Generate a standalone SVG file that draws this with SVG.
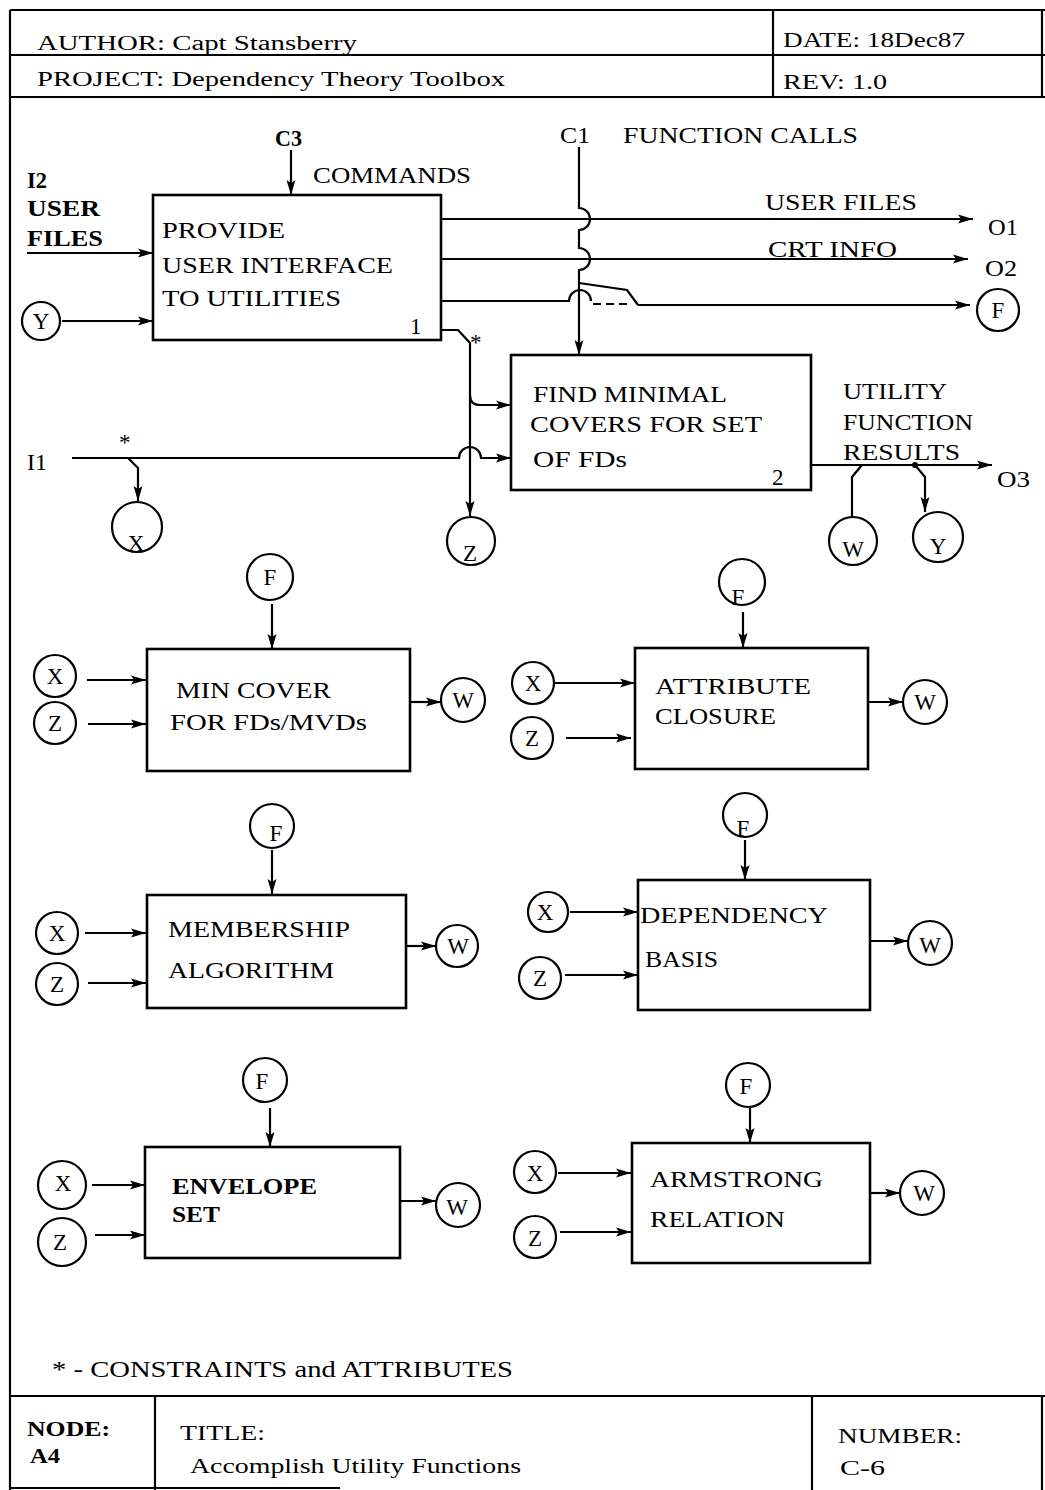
<svg xmlns="http://www.w3.org/2000/svg" width="1045" height="1490" viewBox="0 0 1045 1490">
<defs>
<marker id="arr" markerUnits="userSpaceOnUse" markerWidth="16" markerHeight="10" refX="15" refY="5" orient="auto">
<path d="M0,0.5 L15,5 L0,9.5 L3,5 z" fill="#000"/>
</marker>
<style>
.t{font-family:"Liberation Serif","DejaVu Serif",serif;font-size:23px;fill:#000}
.h{font-size:20px}
.b{font-weight:bold}
.l{fill:none;stroke:#000;stroke-width:2.2}
.a{marker-end:url(#arr)}
.bx{fill:#fff;stroke:#000;stroke-width:2.6}
.c{fill:#fff;stroke:#000;stroke-width:2.2}
.cl{font-family:"Liberation Serif","DejaVu Serif",serif;font-size:23px;text-anchor:middle;fill:#000}
</style>
</defs>
<rect width="1045" height="1490" fill="#fff"/>
<g id="frame" class="l">
<path d="M10,10 H1045 M10,10 V1490 M10,55 H1045 M10,97 H1045 M773,10 V97 M1042,10 V97 M10,1396 H1045 M155,1396 V1490 M812,1396 V1490 M1042,1396 V1490 M10,1488 H340"/>
</g>
<g id="header">
<text class="t h" x="37" y="50" textLength="320" lengthAdjust="spacingAndGlyphs">AUTHOR: Capt Stansberry</text>
<text class="t h" x="783" y="47" textLength="182" lengthAdjust="spacingAndGlyphs">DATE: 18Dec87</text>
<text class="t h" x="37" y="86" textLength="468" lengthAdjust="spacingAndGlyphs">PROJECT: Dependency Theory Toolbox</text>
<text class="t h" x="783" y="89" textLength="104" lengthAdjust="spacingAndGlyphs">REV: 1.0</text>
</g>
<g id="labels">
<text class="t b" x="275" y="146" textLength="27" lengthAdjust="spacingAndGlyphs">C3</text>
<text class="t" x="313" y="183" textLength="158" lengthAdjust="spacingAndGlyphs">COMMANDS</text>
<text class="t" x="560" y="143" textLength="30" lengthAdjust="spacingAndGlyphs">C1</text>
<text class="t" x="623" y="143" textLength="235" lengthAdjust="spacingAndGlyphs">FUNCTION CALLS</text>
<text class="t b" x="27" y="188" textLength="20" lengthAdjust="spacingAndGlyphs">I2</text>
<text class="t b" x="27" y="216" textLength="73" lengthAdjust="spacingAndGlyphs">USER</text>
<text class="t b" x="27" y="246" textLength="76" lengthAdjust="spacingAndGlyphs">FILES</text>
<text class="t" x="765" y="210" textLength="152" lengthAdjust="spacingAndGlyphs">USER FILES</text>
<text class="t" x="768" y="257" textLength="129" lengthAdjust="spacingAndGlyphs">CRT INFO</text>
<text class="t" x="988" y="235" textLength="30" lengthAdjust="spacingAndGlyphs">O1</text>
<text class="t" x="985" y="276" textLength="32" lengthAdjust="spacingAndGlyphs">O2</text>
<text class="t" x="27" y="470" textLength="20" lengthAdjust="spacingAndGlyphs">I1</text>
<text class="t" x="997" y="487" textLength="33" lengthAdjust="spacingAndGlyphs">O3</text>
<text class="t" x="843" y="399" textLength="104" lengthAdjust="spacingAndGlyphs">UTILITY</text>
<text class="t" x="843" y="430" textLength="130" lengthAdjust="spacingAndGlyphs">FUNCTION</text>
<text class="t" x="843" y="460" textLength="117" lengthAdjust="spacingAndGlyphs">RESULTS</text>
<text class="t" x="470" y="350" font-size="18">*</text>
<text class="t" x="119" y="450" font-size="18">*</text>
<text class="t" x="52" y="1377" textLength="461" lengthAdjust="spacingAndGlyphs">* - CONSTRAINTS and ATTRIBUTES</text>
</g>
<g id="footer">
<text class="t h b" x="27" y="1436" textLength="83" lengthAdjust="spacingAndGlyphs">NODE:</text>
<text class="t h b" x="30" y="1463" textLength="30" lengthAdjust="spacingAndGlyphs">A4</text>
<text class="t h" x="180" y="1440" textLength="85" lengthAdjust="spacingAndGlyphs">TITLE:</text>
<text class="t h" x="190" y="1473" textLength="331" lengthAdjust="spacingAndGlyphs">Accomplish Utility Functions</text>
<text class="t h" x="838" y="1443" textLength="124" lengthAdjust="spacingAndGlyphs">NUMBER:</text>
<text class="t h" x="840" y="1475" textLength="45" lengthAdjust="spacingAndGlyphs">C-6</text>
</g>
<g id="connectors" class="l">
<path class="a" d="M291,150 V195"/>
<path class="a" d="M27,253 H153"/>
<path class="a" d="M62,321 H153"/>
<path class="a" d="M441,219 H973"/>
<path class="a" d="M441,259 H968"/>
<path d="M441,301 H569 A11,11 0 0 1 591,301"/>
<path d="M593,304 H632" stroke-dasharray="8,5"/>
<path class="a" d="M638,305 H970"/>
<path d="M579,283 L627,290 L638,305"/>
<path class="a" d="M579,147 V208 A11,11 0 0 1 579,230 V248 A11,11 0 0 1 579,270 V355"/>
<path class="a" d="M441,330 H458 L470,343 V516"/>
<path class="a" d="M470,395 Q470,405 480,405 H511"/>
<path class="a" d="M72,458 H459 A11,11 0 0 1 481,458 H511"/>
<path class="a" d="M128,458 L138,468 V501"/>
<path class="a" d="M811,465 H992"/>
<path d="M862,465 L852,477 V517"/>
<path class="a" d="M915,465 L925,477 V512"/>
<path class="a" d="M272,604 V649"/>
<path class="a" d="M87,680 H146"/>
<path class="a" d="M88,724 H146"/>
<path class="a" d="M410,702 H441"/>
<path class="a" d="M743,612 V648"/>
<path class="a" d="M555,683 H635"/>
<path class="a" d="M566,738 H631"/>
<path class="a" d="M868,702 H903"/>
<path class="a" d="M272,850 V894"/>
<path class="a" d="M85,933 H146"/>
<path class="a" d="M88,983 H146"/>
<path class="a" d="M406,946 H436"/>
<path class="a" d="M745,840 V880"/>
<path class="a" d="M570,912 H638"/>
<path class="a" d="M565,975 H638"/>
<path class="a" d="M870,941 H908"/>
<path class="a" d="M270,1108 V1147"/>
<path class="a" d="M92,1185 H145"/>
<path class="a" d="M95,1235 H145"/>
<path class="a" d="M400,1201 H436"/>
<path class="a" d="M750,1108 V1143"/>
<path class="a" d="M558,1173 H631"/>
<path class="a" d="M560,1232 H631"/>
<path class="a" d="M870,1193 H900"/>
</g>
<circle cx="915" cy="465" r="3" fill="#000"/>
<g id="box1">
<rect class="bx" x="153" y="195" width="288" height="145"/>
<text class="t" x="162" y="238" textLength="123" lengthAdjust="spacingAndGlyphs">PROVIDE</text>
<text class="t" x="162" y="273" textLength="231" lengthAdjust="spacingAndGlyphs">USER INTERFACE</text>
<text class="t" x="162" y="306" textLength="179" lengthAdjust="spacingAndGlyphs">TO UTILITIES</text>
<text class="t" x="410" y="334" font-size="20">1</text>
</g>
<g id="box2">
<rect class="bx" x="511" y="355" width="300" height="135"/>
<text class="t" x="533" y="402" textLength="194" lengthAdjust="spacingAndGlyphs">FIND MINIMAL</text>
<text class="t" x="530" y="432" textLength="232" lengthAdjust="spacingAndGlyphs">COVERS FOR SET</text>
<text class="t" x="533" y="467" textLength="94" lengthAdjust="spacingAndGlyphs">OF FDs</text>
<text class="t" x="772" y="485" font-size="20">2</text>
</g>
<g id="top-circles">
<g id="c-Y1"><circle class="c" cx="41" cy="321" r="19"/><text class="cl" x="41" y="329">Y</text></g>
<g id="c-F0"><circle class="c" cx="998" cy="310" r="21"/><text class="cl" x="998" y="318">F</text></g>
<g id="c-X0"><circle class="c" cx="137" cy="527" r="25"/><text class="cl" x="136" y="551">X</text></g>
<g id="c-Z0"><circle class="c" cx="471" cy="541" r="24"/><text class="cl" x="470" y="561">Z</text></g>
<g id="c-W0"><circle class="c" cx="853" cy="541" r="24"/><text class="cl" x="853" y="557">W</text></g>
<g id="c-Y0"><circle class="c" cx="938" cy="537" r="25"/><text class="cl" x="938" y="554">Y</text></g>
</g>
<g id="mincover">
<rect class="bx" x="147" y="649" width="263" height="122"/>
<text class="t" x="176" y="698" textLength="155" lengthAdjust="spacingAndGlyphs">MIN COVER</text>
<text class="t" x="170" y="730" textLength="197" lengthAdjust="spacingAndGlyphs">FOR FDs/MVDs</text>
<circle class="c" cx="270" cy="577" r="23"/><text class="cl" x="270" y="585">F</text>
<circle class="c" cx="55" cy="676" r="21"/><text class="cl" x="55" y="684">X</text>
<circle class="c" cx="55" cy="723" r="21"/><text class="cl" x="55" y="731">Z</text>
<circle class="c" cx="463" cy="700" r="22"/><text class="cl" x="463" y="708">W</text>
</g>
<g id="attrclosure">
<rect class="bx" x="635" y="648" width="233" height="121"/>
<text class="t" x="655" y="694" textLength="156" lengthAdjust="spacingAndGlyphs">ATTRIBUTE</text>
<text class="t" x="655" y="724" textLength="121" lengthAdjust="spacingAndGlyphs">CLOSURE</text>
<circle class="c" cx="742" cy="582" r="23"/><text class="cl" x="738" y="605">F</text>
<circle class="c" cx="533" cy="683" r="21"/><text class="cl" x="533" y="691">X</text>
<circle class="c" cx="532" cy="738" r="21"/><text class="cl" x="532" y="746">Z</text>
<circle class="c" cx="925" cy="702" r="22"/><text class="cl" x="925" y="710">W</text>
</g>
<g id="membership">
<rect class="bx" x="147" y="895" width="259" height="113"/>
<text class="t" x="168" y="937" textLength="182" lengthAdjust="spacingAndGlyphs">MEMBERSHIP</text>
<text class="t" x="168" y="978" textLength="166" lengthAdjust="spacingAndGlyphs">ALGORITHM</text>
<circle class="c" cx="272" cy="826" r="22"/><text class="cl" x="276" y="841">F</text>
<circle class="c" cx="57" cy="933" r="21"/><text class="cl" x="57" y="941">X</text>
<circle class="c" cx="57" cy="984" r="21"/><text class="cl" x="57" y="992">Z</text>
<circle class="c" cx="457" cy="946" r="21"/><text class="cl" x="458" y="954">W</text>
</g>
<g id="depbasis">
<rect class="bx" x="638" y="880" width="232" height="130"/>
<text class="t" x="640" y="923" textLength="188" lengthAdjust="spacingAndGlyphs">DEPENDENCY</text>
<text class="t" x="645" y="967" textLength="73" lengthAdjust="spacingAndGlyphs">BASIS</text>
<circle class="c" cx="745" cy="815" r="22"/><text class="cl" x="743" y="836">F</text>
<circle class="c" cx="548" cy="912" r="20"/><text class="cl" x="545" y="920">X</text>
<circle class="c" cx="540" cy="978" r="21"/><text class="cl" x="540" y="986">Z</text>
<circle class="c" cx="930" cy="943" r="22"/><text class="cl" x="930" y="953">W</text>
</g>
<g id="envelope">
<rect class="bx" x="145" y="1147" width="255" height="111"/>
<text class="t b" x="172" y="1194" textLength="145" lengthAdjust="spacingAndGlyphs">ENVELOPE</text>
<text class="t b" x="172" y="1222" textLength="48" lengthAdjust="spacingAndGlyphs">SET</text>
<circle class="c" cx="265" cy="1080" r="22"/><text class="cl" x="262" y="1089">F</text>
<circle class="c" cx="62" cy="1185" r="24"/><text class="cl" x="63" y="1191">X</text>
<circle class="c" cx="62" cy="1242" r="24"/><text class="cl" x="60" y="1250">Z</text>
<circle class="c" cx="458" cy="1205" r="22"/><text class="cl" x="457" y="1215">W</text>
</g>
<g id="armstrong">
<rect class="bx" x="632" y="1143" width="238" height="120"/>
<text class="t" x="650" y="1187" textLength="173" lengthAdjust="spacingAndGlyphs">ARMSTRONG</text>
<text class="t" x="650" y="1227" textLength="135" lengthAdjust="spacingAndGlyphs">RELATION</text>
<circle class="c" cx="748" cy="1085" r="22"/><text class="cl" x="746" y="1094">F</text>
<circle class="c" cx="535" cy="1172" r="21"/><text class="cl" x="535" y="1181">X</text>
<circle class="c" cx="535" cy="1237" r="21"/><text class="cl" x="535" y="1246">Z</text>
<circle class="c" cx="922" cy="1193" r="22"/><text class="cl" x="924" y="1201">W</text>
</g>
</svg>
